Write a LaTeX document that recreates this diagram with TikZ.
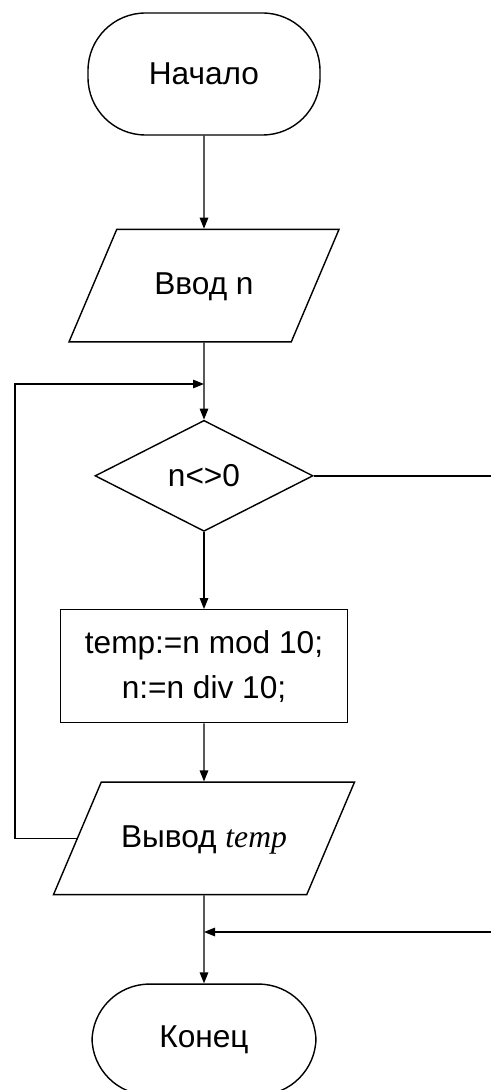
\documentclass[tikz,border=0pt]{standalone}
\usepackage{fontspec}
\setmainfont{Liberation Sans}
\newfontfamily\varfont{Liberation Serif}
\usetikzlibrary{arrows.meta, positioning, shapes.geometric}

\begin{document}
\begin{tikzpicture}[
    node distance=1.5cm,
    base/.style  = {draw, line width=0.8pt, align=center,
                    font=\fontsize{18}{25.6}\selectfont},
    term/.style  = {base, rectangle, rounded corners=1.15cm,
                    minimum width=4.64cm, minimum height=2.44cm},
    io/.style    = {base, trapezium, trapezium left angle=67,
                    trapezium right angle=113, trapezium stretches body,
                    text height=0.5cm, text depth=0.15cm, inner ysep=0.8cm},
    cond/.style  = {base, diamond, inner sep=0pt,
                    minimum width=4.36cm, minimum height=2.22cm},
    proc/.style  = {base, rectangle, minimum width=5.74cm,
                    minimum height=2.26cm},
    arrow/.style = {-{Triangle[length=2.2mm, width=1.7mm]}, line width=0.8pt},
    wire/.style  = {line width=0.8pt}
]
\useasboundingbox (0,0) rectangle (9.82,-21.8);
\clip (0,0) rectangle (9.82,-21.8);

% ========= main column =========
\node[term] (start) at (4.08,-1.48) {Начало};
\node[io, minimum width=5.4cm, below=1.86cm of start]  (input)  {Ввод n};
\node[cond, below=1.54cm of input]                     (check)  {n<>0};
\node[proc, below=1.54cm of check]                     (body)   {temp:=n mod 10;\\n:=n div 10;};
\node[io, minimum width=6.02cm, below=1.16cm of body]  (output) {Вывод {\varfont\itshape temp}};
\node[term, minimum width=4.48cm, minimum height=2.22cm,
      below=1.76cm of output]                          (stop)   {Конец};

\coordinate (loopin) at (start.center |- 0,-7.68);
\coordinate (exitin) at (start.center |- 0,-18.64);

\draw[arrow] (start)  -- (input);
\draw[arrow] (input)  -- (check);
\draw[arrow] (check)  -- (body);
\draw[arrow] (body)   -- (output);
\draw[arrow] (output) -- (stop);

% ========= loop back and exit =========
\draw[arrow] (output.west) -| (0.3,-7.68) -- (loopin);
\draw[arrow] (check.east) -| (10.2,-18.64) -- (exitin);

\end{tikzpicture}
\end{document}
